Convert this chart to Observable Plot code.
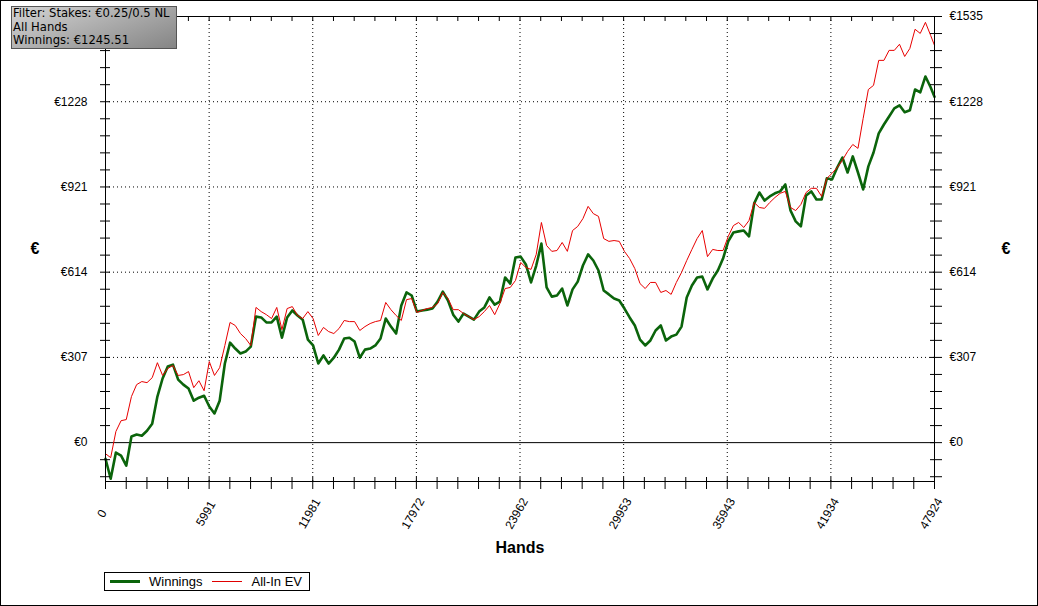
<!DOCTYPE html>
<html>
<head>
<meta charset="utf-8">
<script src="https://cdn.jsdelivr.net/npm/d3@7"></script>
<script src="https://cdn.jsdelivr.net/npm/@observablehq/plot@0.6"></script>
<style>
  body { margin: 0; background: white; }
  #wrap { position: relative; width: 1038px; height: 606px; overflow: hidden; font-family: "Liberation Sans", Arial, sans-serif; }
  #grafico svg { display: block; }
  #borde { position: absolute; left: 0; top: 0; width: 1038px; height: 606px; box-sizing: border-box; border: 1px solid #000; pointer-events: none; }
  #filtro { position: absolute; left: 11px; top: 6px; width: 166px; height: 43px; box-sizing: border-box;
    border: 1px solid #555; background: linear-gradient(160deg, #d4d4d4, #858585);
    font-family: "DejaVu Sans", sans-serif; font-size: 11.6px; line-height: 13.6px; padding: 0 0 0 1px; color: #000; white-space: nowrap; }
  #leyenda { margin-left: 104px; margin-top: 12px; width: 206px; height: 19px; box-sizing: border-box; border: 1px solid #000;
    display: flex; align-items: center; font-size: 13px; }
  .lin { display: inline-block; width: 30px; margin: 0 9px 0 5px; }
</style>
</head>
<body>
<div id="wrap">
  <div id="grafico"></div>
  <div id="leyenda">
    <span class="lin" style="height:3px;background:#0b640b"></span><span>Winnings</span>
    <span class="lin" style="height:1px;background:#e00000;margin-left:10px"></span><span>All-In EV</span>
  </div>
  <div id="filtro">Filter: Stakes: €0.25/0.5 NL<br>All Hands<br>Winnings: €1245.51</div>
  <div id="borde"></div>
</div>
<script>
// manos (eje x)
const hands = [0,300,600,900,1200,1500,1800,2100,2400,2700,
  3000,3300,3600,3900,4200,4500,4800,5100,5400,5700,
  6000,6300,6600,6900,7200,7500,7800,8100,8400,8700,
  9000,9300,9600,9900,10200,10500,10800,11100,11400,11700,
  12000,12300,12600,12900,13200,13500,13800,14100,14400,14700,
  15000,15300,15600,15900,16200,16500,16800,17100,17400,17700,
  18000,18300,18600,18900,19200,19500,19800,20100,20400,20700,
  21000,21300,21600,21900,22200,22500,22800,23100,23400,23700,
  24000,24300,24600,24900,25200,25500,25800,26100,26400,26700,
  27000,27300,27600,27900,28200,28500,28800,29100,29400,29700,
  30000,30300,30600,30900,31200,31500,31800,32100,32400,32700,
  33000,33300,33600,33900,34200,34500,34800,35100,35400,35700,
  36000,36300,36600,36900,37200,37500,37800,38100,38400,38700,
  39000,39300,39600,39900,40200,40500,40800,41100,41400,41700,
  42000,42300,42600,42900,43200,43500,43800,44100,44400,44700,
  45000,45300,45600,45900,46200,46500,46800,47100,47400,47700,
  47924];

const winnings = [-58,-130,-36,-47,-83,22,29,25,43,68,
  166,231,274,281,227,209,195,151,162,169,
  130,105,151,285,360,339,321,328,346,454,
  451,433,433,454,378,451,476,458,443,371,
  350,285,314,285,306,335,375,378,364,306,
  335,339,350,375,447,418,393,494,541,530,
  472,476,479,483,508,544,512,461,436,465,
  454,443,472,487,523,497,508,595,573,667,
  670,642,577,638,717,559,526,530,555,494,
  552,580,638,678,656,620,548,534,519,512,
  483,451,422,371,350,368,404,422,368,382,
  389,418,523,566,595,598,552,591,620,663,
  725,757,761,764,743,862,901,872,887,898,
  905,930,836,797,779,890,905,876,876,952,
  948,991,1027,973,1031,973,912,995,1045,1114,
  1146,1175,1204,1215,1190,1197,1272,1262,1319,1280,
  1245.51];

const allInEV = [-40,-54,40,79,83,166,209,220,216,234,
  288,242,267,278,242,245,256,198,223,187,
  292,242,270,350,433,422,393,375,350,487,
  472,461,447,487,407,483,490,458,447,472,
  447,386,415,400,393,411,440,436,436,404,
  418,429,436,440,505,479,458,440,515,519,
  469,476,483,487,501,541,519,479,479,465,
  454,443,454,472,494,461,501,555,559,584,
  649,631,624,678,793,710,689,692,721,689,
  764,779,807,851,825,815,735,725,728,725,
  689,663,627,573,555,577,577,541,548,534,
  577,613,656,696,735,764,670,696,692,692,
  743,782,793,775,800,865,847,844,865,883,
  898,905,847,836,858,901,916,916,887,952,
  970,991,1017,1049,1074,1060,1168,1272,1287,1377,
  1377,1413,1413,1435,1391,1420,1489,1474,1514,1467,
  1431];

// ticks
const xMajor = [0,5991,11981,17972,23962,29953,35943,41934,47924];
const yMajor = [0,307,614,921,1228,1535];
const xMinor = d3.range(0, 8).flatMap(i => d3.range(0, 5).map(j => Math.round(i*5990.5 + j*1198.1))).concat([47924]);
const yMinor = [-122.8,-61.4].concat(d3.range(0, 5).flatMap(i => d3.range(0, 5).map(j => i*307 + j*61.4))).concat([1535]);

const W = 829, H = 465; // ancho y alto del area de dibujo

const dataW = hands.map((h, i) => ({hands: h, value: winnings[i]}));
const dataE = hands.map((h, i) => ({hands: h, value: allInEV[i]}));

const chart = Plot.plot({
  width: 1038,
  height: 560,
  marginLeft: 105,
  marginRight: 104,
  marginTop: 16,
  marginBottom: 79,
  style: {fontFamily: "Liberation Sans, Arial, sans-serif", fontSize: "12px", background: "transparent"},
  x: {domain: [0, 47924], axis: null},
  y: {domain: [-140, 1535], axis: null},
  marks: [
    // grilla punteada
    Plot.ruleY(yMajor.filter(d => d > 0 && d < 1535), {stroke: "#000", strokeDasharray: "1,3"}),
    Plot.ruleX(xMajor.filter(d => d > 0 && d < 47924), {stroke: "#000", strokeDasharray: "1,3"}),
    Plot.ruleY([0], {stroke: "#000"}),
    Plot.line(dataW, {x: "hands", y: "value", stroke: "#0b640b", strokeWidth: 2.6}),
    Plot.line(dataE, {x: "hands", y: "value", stroke: "#e80000", strokeWidth: 1}),
    Plot.frame({stroke: "#000"}),
    // marcas de los ejes
    Plot.tickY(yMinor, {y: d => d, insetRight: W - 10, dx: -5, stroke: "#000"}),
    Plot.tickY(yMinor, {y: d => d, insetLeft: W - 12, dx: 8, stroke: "#000"}),
    Plot.tickX(xMinor, {x: d => d, insetTop: H - 12, dy: 8, stroke: "#000"}),
    Plot.tickX(xMinor, {x: d => d, insetBottom: H - 5, stroke: "#000"}),
    // la etiqueta €1535 de la izquierda queda tapada por el recuadro del filtro
    Plot.axisY(yMajor.filter(d => d < 1535), {anchor: "left", tickSize: 0, tickPadding: 18, tickFormat: d => "€" + d, label: null, fontSize: 12}),
    Plot.axisY(yMajor, {anchor: "right", tickSize: 0, tickPadding: 15, tickFormat: d => "€" + d, label: null, fontSize: 12}),
    Plot.text(xMajor, {x: d => d, text: d => String(d), frameAnchor: "bottom", dy: 34, rotate: -60, fontSize: 12}),
    Plot.text(["Hands"], {frameAnchor: "bottom", dy: 71, fontSize: 16, fontWeight: "bold"}),
    Plot.text(["€"], {frameAnchor: "left", dx: -75, fontSize: 16, fontWeight: "bold"}),
    Plot.text(["€"], {frameAnchor: "right", dx: 76, fontSize: 16, fontWeight: "bold"})
  ]
});

d3.select('#grafico').append(() => chart);
</script>
</body>
</html>
